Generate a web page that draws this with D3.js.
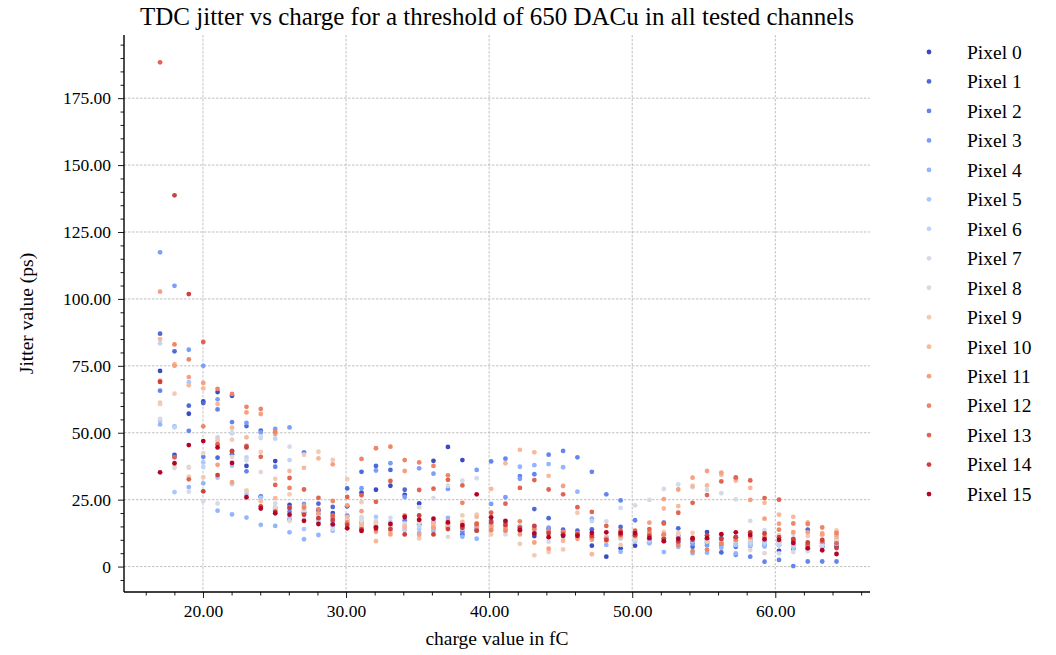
<!DOCTYPE html>
<html><head><meta charset="utf-8">
<script src="https://cdn.jsdelivr.net/npm/d3@7"></script>
<style>
body{margin:0;background:#fff}
svg{display:block}
text{font-family:"Liberation Serif","Times New Roman",serif;fill:#000}
</style>
</head><body>
<svg id="chart" width="1056" height="655"></svg>
<script>
// ---------------- data ----------------
const charges = [17.00,18.01,19.01,20.02,21.02,22.03,23.04,24.04,25.05,26.05,27.06,28.07,29.07,30.08,31.08,32.09,33.10,34.10,35.11,36.11,37.12,38.13,39.13,40.14,41.14,42.15,43.16,44.16,45.17,46.17,47.18,48.19,49.19,50.20,51.20,52.21,53.22,54.22,55.23,56.23,57.24,58.25,59.25,60.26,61.26,62.27,63.28,64.28];
const pixelNames = ["Pixel 0","Pixel 1","Pixel 2","Pixel 3","Pixel 4","Pixel 5","Pixel 6","Pixel 7","Pixel 8","Pixel 9","Pixel 10","Pixel 11","Pixel 12","Pixel 13","Pixel 14","Pixel 15"];
const xTicks = [20,30,40,50,60];
const yTicks = [0,25,50,75,100,125,150,175];

const pixel0  = [73.1,41.7,57.1,61.7,65.2,63.8,37.6,26.0,39.4,23.0,20.2,21.0,20.0,22.5,27.6,28.7,30.2,26.8,23.6,39.5,44.7,39.8,15.0,15.5,15.0,14.0,11.4,14.1,13.0,12.0,7.8,3.7,6.8,7.8,9.5,11.8,11.5,10.0,12.9,10.5,11.0,10.0,8.5,5.9,6.7,7.0,7.5,7.4];
const pixel1  = [87.0,80.4,60.1,61.1,40.7,42.0,52.5,50.8,21.9,17.6,20.0,23.5,22.3,29.2,35.4,37.6,36.1,28.7,15.6,14.6,16.0,12.0,14.0,17.0,16.5,15.0,21.5,18.1,13.8,13.4,13.9,11.0,14.8,12.0,10.0,16.4,14.3,7.4,8.8,5.3,7.4,7.8,9.0,9.3,10.3,13.8,8.7,8.0];
const pixel2  = [65.7,41.0,50.7,41.0,58.7,54.0,35.6,26.2,37.3,20.5,42.7,19.5,18.5,19.0,16.4,15.0,15.5,17.3,16.0,16.5,15.0,13.0,13.5,39.3,40.3,33.8,34.5,41.8,43.2,40.8,35.4,27.0,24.7,17.3,11.0,10.5,10.0,9.0,10.0,9.0,4.4,3.7,1.8,2.5,0.2,1.9,1.9,1.9];
const pixel3  = [117.4,104.9,81.0,75.0,62.5,49.9,53.7,50.1,51.4,52.0,23.4,18.0,17.0,17.5,29.3,35.9,38.6,26.0,36.7,34.7,29.0,15.5,36.1,23.4,25.9,32.8,15.0,14.5,12.5,12.0,11.0,10.0,11.0,11.0,9.0,9.5,9.0,8.5,8.0,8.0,8.5,8.5,8.0,8.0,8.0,8.0,8.0,9.0];
const pixel4  = [53.1,52.4,29.7,31.1,20.9,19.5,18.3,15.6,15.2,12.8,10.2,11.8,13.4,14.5,14.5,15.5,14.0,14.0,12.5,13.4,18.2,11.1,10.4,14.0,16.1,37.3,37.9,38.3,37.1,28.0,17.9,8.1,5.5,10.0,8.7,5.4,7.4,5.0,5.2,7.0,4.9,9.5,7.5,9.0,8.5,7.5,9.0,9.9];
const pixel5  = [54.5,27.8,68.9,38.9,33.2,37.7,27.1,25.7,21.0,18.0,14.0,16.5,15.0,16.0,16.0,18.6,16.5,15.5,14.0,14.0,14.5,14.0,14.5,15.0,14.0,14.9,13.9,13.0,12.0,11.5,11.8,10.5,10.5,9.4,9.5,10.0,10.0,9.5,9.5,9.0,8.0,8.0,8.5,8.5,7.0,6.5,7.0,8.5];
const pixel6  = [83.4,52.0,37.0,37.2,48.3,30.8,40.8,48.0,47.8,39.8,21.0,17.0,16.0,17.0,18.0,16.5,15.0,13.5,15.0,15.0,15.5,15.0,15.0,16.0,13.5,13.0,13.0,12.5,11.5,11.0,17.0,11.0,11.0,10.5,10.0,11.0,11.0,10.0,10.0,10.0,9.5,9.0,9.0,8.0,8.0,7.0,8.0,9.0];
const pixel7  = [55.2,36.8,28.0,24.5,23.6,50.0,39.7,48.5,23.6,44.8,17.5,18.5,14.0,15.5,18.5,17.0,18.2,16.0,22.2,25.6,30.2,32.1,33.0,14.5,12.0,14.0,12.5,9.3,10.5,12.0,12.0,16.9,21.9,22.9,24.9,29.0,30.7,29.6,28.6,27.4,25.1,17.1,13.6,4.9,5.4,5.7,8.0,8.5];
const pixel8  = [60.6,37.5,37.2,42.4,47.0,41.0,28.5,35.3,22.0,17.0,20.7,19.0,17.5,18.0,17.0,16.0,16.0,15.0,16.5,16.0,11.1,16.0,16.0,15.5,14.5,15.0,14.0,12.0,12.0,11.0,11.5,10.0,11.0,10.0,11.0,11.0,12.0,11.0,11.0,10.0,10.0,6.2,5.0,9.5,9.0,8.5,9.5,10.0];
const pixel9  = [61.2,64.6,33.6,33.4,47.2,47.4,28.2,42.8,32.8,27.0,41.8,42.9,39.9,32.7,24.1,16.4,14.9,15.2,10.5,15.5,16.1,19.1,19.4,12.0,15.0,8.5,4.2,5.4,6.4,20.1,10.5,10.5,8.1,11.0,12.3,13.0,12.6,12.6,9.3,9.9,9.8,10.0,11.3,11.7,12.3,11.4,11.7,13.5];
const pixel10 = [85.0,75.6,67.7,66.6,60.7,51.9,48.3,24.4,25.6,35.7,36.9,40.4,18.9,18.6,15.2,9.5,13.0,14.6,17.3,16.1,15.0,16.7,18.6,29.0,38.6,43.6,42.7,33.9,9.6,11.5,4.6,9.5,11.0,12.4,13.0,21.7,22.6,30.1,30.3,34.3,32.1,29.4,23.8,19.4,18.6,16.5,12.5,11.0];
const pixel11 = [102.7,75.0,70.8,68.6,38.0,31.5,57.6,57.0,49.5,22.0,22.5,19.9,38.2,22.9,20.7,13.0,12.0,35.7,11.9,14.5,17.1,15.0,14.5,14.9,14.5,12.0,9.0,6.7,30.1,10.4,10.0,10.5,11.5,11.5,16.4,25.2,28.8,33.2,35.7,35.1,33.0,24.9,17.9,16.0,12.9,12.8,12.1,11.9];
const pixel12 = [69.4,83.0,77.4,52.4,66.4,64.5,59.7,58.9,50.4,29.4,22.0,21.5,24.5,16.5,40.2,44.2,44.8,39.8,38.9,37.6,34.1,23.8,16.0,13.6,13.4,16.9,14.0,13.3,13.0,12.5,11.0,10.0,12.0,12.0,12.5,12.0,8.1,5.8,6.3,8.5,10.0,11.0,11.0,13.8,16.1,15.9,14.6,12.6];
const pixel13 = [188.4,40.8,32.6,83.9,45.7,43.0,45.1,41.0,30.5,33.1,28.8,25.7,19.0,26.0,26.6,24.2,32.0,19.0,28.6,29.1,32.4,30.3,15.9,20.1,23.5,29.4,32.3,28.8,27.0,22.2,20.4,15.2,13.4,13.4,14.0,16.1,20.1,23.8,26.7,31.8,33.3,32.2,25.6,25.0,9.6,8.1,9.4,8.7];
const pixel14 = [69.0,138.7,101.8,28.1,34.2,43.2,44.5,22.5,20.5,21.9,19.4,18.1,17.4,15.6,13.9,14.0,14.0,12.0,19.1,12.0,14.0,14.5,13.4,16.5,15.5,14.5,15.2,12.5,12.0,12.0,11.5,10.0,12.0,11.7,11.5,10.3,9.4,10.0,11.7,10.3,11.0,12.8,12.4,11.0,10.0,9.0,10.0,6.9];
const pixel15 = [35.2,38.6,45.4,46.9,44.5,38.7,25.9,21.7,19.9,19.4,17.1,15.9,15.8,14.3,13.3,14.6,15.9,18.5,17.5,17.9,16.5,15.5,27.0,18.4,17.1,13.6,12.4,11.0,11.5,11.5,12.6,12.8,12.6,12.5,10.6,9.5,10.4,10.6,10.6,12.1,12.8,11.8,10.2,10.0,8.8,6.8,6.1,4.7];
const jitter = [pixel0,pixel1,pixel2,pixel3,pixel4,pixel5,pixel6,pixel7,pixel8,pixel9,pixel10,pixel11,pixel12,pixel13,pixel14,pixel15];

// ---------------- colours (coolwarm) ----------------
const cwStops = [[59,76,192],[68,90,204],[77,104,215],[87,117,225],[98,130,234],[108,142,241],[119,154,247],[130,165,251],[141,176,254],[152,185,255],[163,194,255],[174,201,253],[184,208,249],[194,213,244],[204,217,238],[213,219,230],[221,221,221],[229,216,209],[236,211,197],[241,204,184],[245,196,172],[247,187,159],[247,177,147],[247,166,134],[244,154,123],[241,141,111],[236,127,99],[229,112,89],[222,96,78],[213,80,69],[203,62,60],[192,40,51],[180,4,38]];
const coolwarm = d3.scaleLinear()
  .domain(cwStops.map((_, i) => i / (cwStops.length - 1)))
  .range(cwStops.map(c => `rgb(${c[0]},${c[1]},${c[2]})`))
  .interpolate(d3.interpolateRgb);
const color = i => coolwarm(i / (pixelNames.length - 1));

// ---------------- layout ----------------
const svg = d3.select("#chart");
const L = 124, R = 870, T = 35, B = 592;
const x = d3.scaleLinear().domain([14.48, 66.62]).range([L, R]);
const y = d3.scaleLinear().domain([-9.5, 198.6]).range([B, T]);

// grid
const grid = svg.append("g");
grid.selectAll(".gx").data(xTicks).join("line")
  .attr("x1", d => x(d)).attr("x2", d => x(d)).attr("y1", T).attr("y2", B)
  .attr("stroke", "#b0b0b0").attr("stroke-width", 0.8).attr("stroke-dasharray", "2.5,1.5");
grid.selectAll(".gy").data(yTicks).join("line")
  .attr("x1", L).attr("x2", R).attr("y1", d => y(d)).attr("y2", d => y(d))
  .attr("stroke", "#b0b0b0").attr("stroke-width", 0.8).attr("stroke-dasharray", "2.5,1.5");

// points
const pts = svg.append("g");
jitter.forEach((series, p) => {
  pts.append("g").selectAll("circle").data(series).join("circle")
    .attr("cx", (d, i) => x(charges[i]))
    .attr("cy", d => y(d))
    .attr("r", 2.4)
    .attr("fill", color(p));
});

// axes
const fmt2 = d3.format(".2f");
const xAxis = d3.axisBottom(x).tickValues(xTicks).tickFormat(fmt2).tickSize(6).tickPadding(7);
const xMinor = d3.axisBottom(x).tickValues(d3.range(16, 67, 2).filter(v => v % 10 !== 0)).tickFormat("").tickSize(3.5);
const yAxis = d3.axisLeft(y).tickValues(yTicks).tickFormat(d => d === 0 ? "0" : fmt2(d)).tickSize(6).tickPadding(7);
const yMinor = d3.axisLeft(y).tickValues(d3.range(-5, 198, 5).filter(v => v % 25 !== 0)).tickFormat("").tickSize(3.5);

function styleAxis(g) {
  g.select(".domain").remove();
  g.selectAll("line").attr("stroke", "#000").attr("stroke-width", 0.9);
  g.selectAll("text").style("font-family", '"Liberation Serif","Times New Roman",serif').style("font-size", "17.5px").attr("fill", "#000");
}
svg.append("g").attr("transform", `translate(0,${B})`).call(xAxis).call(styleAxis);
svg.append("g").attr("transform", `translate(0,${B})`).call(xMinor).call(styleAxis);
svg.append("g").attr("transform", `translate(${L},0)`).call(yAxis).call(styleAxis);
svg.append("g").attr("transform", `translate(${L},0)`).call(yMinor).call(styleAxis);

// spines
svg.append("line").attr("x1", L).attr("x2", L).attr("y1", T).attr("y2", B).attr("stroke", "#000").attr("stroke-width", 1.4);
svg.append("line").attr("x1", L).attr("x2", R).attr("y1", B).attr("y2", B).attr("stroke", "#000").attr("stroke-width", 1.4);

// labels
svg.append("text").attr("x", 497).attr("y", 25).attr("text-anchor", "middle")
  .style("font-size", "25px").text("TDC jitter vs charge for a threshold of 650 DACu in all tested channels");
svg.append("text").attr("x", (L + R) / 2).attr("y", 645).attr("text-anchor", "middle")
  .style("font-size", "19.5px").text("charge value in fC");
svg.append("text").attr("transform", `translate(33,${(T + B) / 2}) rotate(-90)`).attr("text-anchor", "middle")
  .style("font-size", "19.5px").text("Jitter value (ps)");

// legend
const leg = svg.append("g");
pixelNames.forEach((name, i) => {
  const yy = 52 + i * 29.47;
  leg.append("circle").attr("cx", 929).attr("cy", yy).attr("r", 2.4).attr("fill", color(i));
  leg.append("text").attr("x", 967).attr("y", yy).attr("dy", "0.35em").style("font-size", "19.5px").text(name);
});
</script>
</body></html>
